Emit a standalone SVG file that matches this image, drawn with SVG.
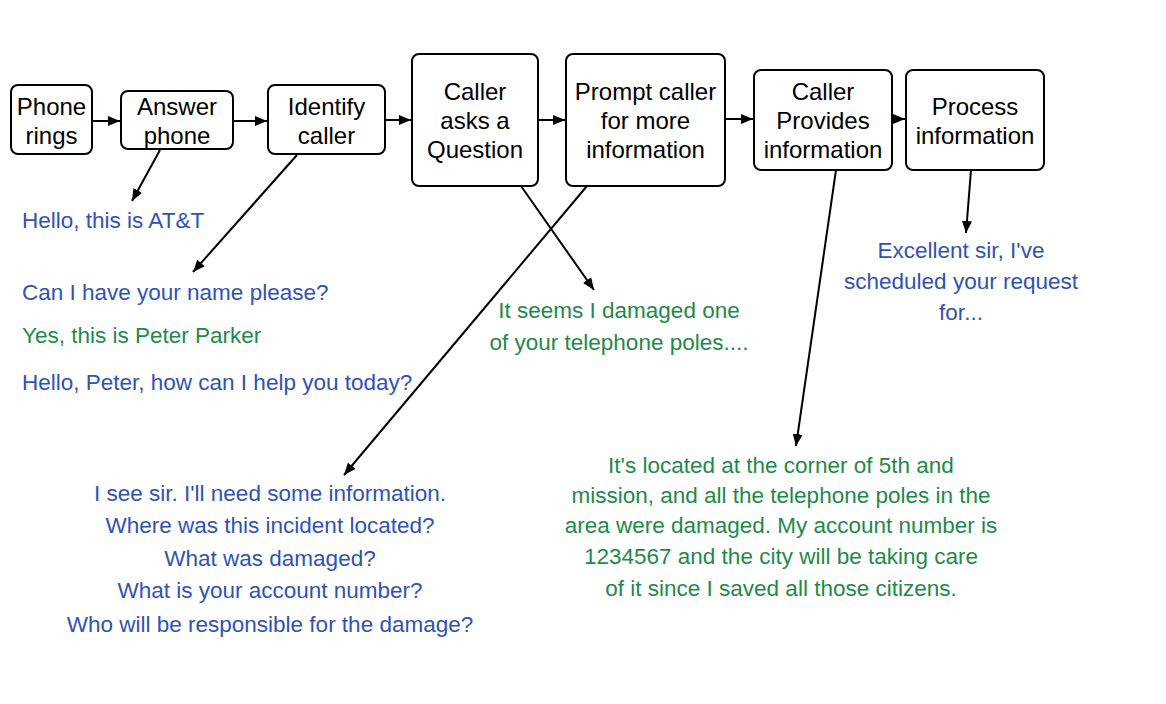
<svg xmlns="http://www.w3.org/2000/svg" width="1166" height="704" viewBox="0 0 1166 704">
<defs>
<marker id="ah" viewBox="0 0 12 10" refX="12" refY="5" markerWidth="12" markerHeight="10" markerUnits="userSpaceOnUse" orient="auto">
<path d="M0,0 L12,5 L0,10 z" fill="#000"/>
</marker>
<style>
.box{fill:#fff;stroke:#000;stroke-width:2}
.lbl{font-family:"Liberation Sans",Arial,sans-serif;font-size:24px;fill:#000;text-anchor:middle}
.con{stroke:#000;stroke-width:2;fill:none;marker-end:url(#ah)}
.note{font-family:"Liberation Sans",Arial,sans-serif;font-size:22.5px}
.blue{fill:#3052b8}
.green{fill:#1e8a48}
.c{text-anchor:middle}
</style>
</defs>
<rect width="1166" height="704" fill="#fff"/>
<g id="connectors">
<line class="con" x1="92" y1="121" x2="120" y2="121"/>
<line class="con" x1="233" y1="121" x2="267" y2="121"/>
<line class="con" x1="385" y1="120" x2="411" y2="120"/>
<line class="con" x1="538" y1="120" x2="565" y2="120"/>
<line class="con" x1="725" y1="119" x2="753" y2="119"/>
<line class="con" x1="892" y1="119" x2="905" y2="119"/>
<line class="con" x1="160" y1="150" x2="132" y2="201"/>
<line class="con" x1="297" y1="155" x2="193" y2="272"/>
<line class="con" x1="521" y1="186" x2="594" y2="290"/>
<line class="con" x1="587" y1="186" x2="344" y2="475"/>
<line class="con" x1="836" y1="170" x2="796" y2="446"/>
<line class="con" x1="971" y1="170" x2="966" y2="233"/>
</g>
<g id="n1"><rect class="box" x="11" y="85" width="81" height="69" rx="7"/>
<text class="lbl"><tspan x="51.5" y="115">Phone</tspan><tspan x="51.5" y="144">rings</tspan></text></g>
<g id="n2"><rect class="box" x="121" y="91" width="112" height="58" rx="7"/>
<text class="lbl"><tspan x="177" y="115">Answer</tspan><tspan x="177" y="144">phone</tspan></text></g>
<g id="n3"><rect class="box" x="268" y="85" width="117" height="69" rx="7"/>
<text class="lbl"><tspan x="326.5" y="115">Identify</tspan><tspan x="326.5" y="144">caller</tspan></text></g>
<g id="n4"><rect class="box" x="412" y="54" width="126" height="132" rx="7"/>
<text class="lbl"><tspan x="475" y="100">Caller</tspan><tspan x="475" y="129">asks a</tspan><tspan x="475" y="158">Question</tspan></text></g>
<g id="n5"><rect class="box" x="566" y="54" width="159" height="132" rx="7"/>
<text class="lbl"><tspan x="645.5" y="100">Prompt caller</tspan><tspan x="645.5" y="129">for more</tspan><tspan x="645.5" y="158">information</tspan></text></g>
<g id="n6"><rect class="box" x="754" y="70" width="138" height="100" rx="7"/>
<text class="lbl"><tspan x="823" y="100">Caller</tspan><tspan x="823" y="129">Provides</tspan><tspan x="823" y="158">information</tspan></text></g>
<g id="n7"><rect class="box" x="906" y="70" width="138" height="100" rx="7"/>
<text class="lbl"><tspan x="975" y="115">Process</tspan><tspan x="975" y="144">information</tspan></text></g>
<g id="notes">
<text class="note blue" x="22" y="228">Hello, this is AT&amp;T</text>
<text class="note blue" x="22" y="300">Can I have your name please?</text>
<text class="note green" x="22" y="343">Yes, this is Peter Parker</text>
<text class="note blue" x="22" y="390">Hello, Peter, how can I help you today?</text>
<text class="note green c"><tspan x="619" y="318">It seems I damaged one</tspan><tspan x="619" y="350">of your telephone poles....</tspan></text>
<text class="note blue c"><tspan x="961" y="258">Excellent sir, I've</tspan><tspan x="961" y="289">scheduled your request</tspan><tspan x="961" y="320">for...</tspan></text>
<text class="note blue c"><tspan x="270" y="501">I see sir. I'll need some information.</tspan><tspan x="270" y="533">Where was this incident located?</tspan><tspan x="270" y="566">What was damaged?</tspan><tspan x="270" y="598">What is your account number?</tspan><tspan x="270" y="632">Who will be responsible for the damage?</tspan></text>
<text class="note green c"><tspan x="781" y="473">It's located at the corner of 5th and</tspan><tspan x="781" y="503">mission, and all the telephone poles in the</tspan><tspan x="781" y="533">area were damaged. My account number is</tspan><tspan x="781" y="564">1234567 and the city will be taking care</tspan><tspan x="781" y="596">of it since I saved all those citizens.</tspan></text>
</g>
</svg>
